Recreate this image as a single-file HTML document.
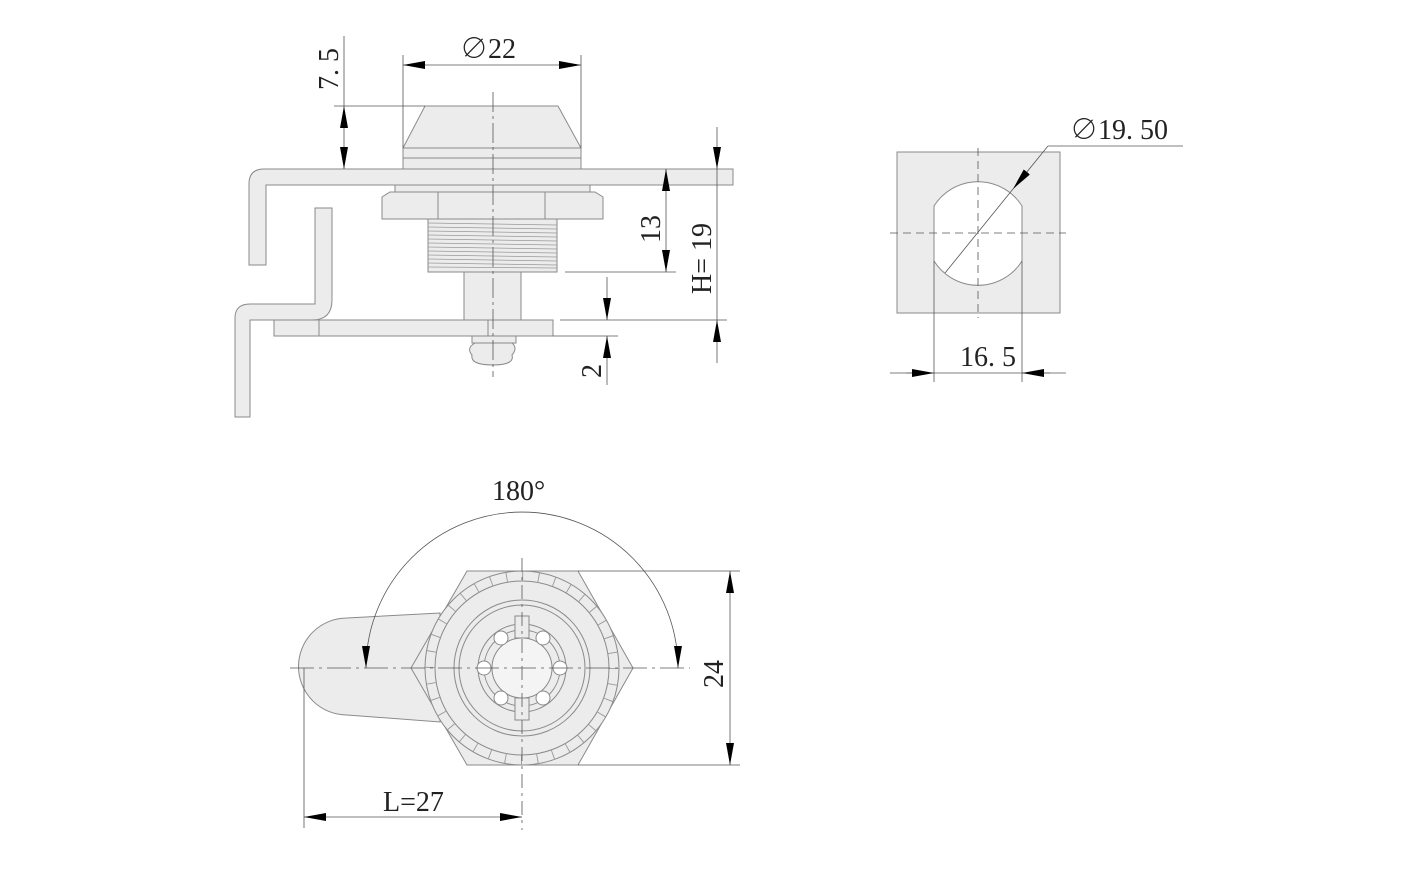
<!DOCTYPE html>
<html><head><meta charset="utf-8"><style>
html,body{margin:0;padding:0;background:#fff;}
svg{display:block;}
text{font-family:"Liberation Serif","Noto Serif CJK SC",serif;fill:#222;font-size:28px;}
</style></head><body>
<svg width="1424" height="894" viewBox="0 0 1424 894" xmlns="http://www.w3.org/2000/svg">
<defs>
<marker id="a" viewBox="0 0 22 8" refX="22" refY="4" markerWidth="22" markerHeight="8" markerUnits="userSpaceOnUse" orient="auto-start-reverse"><path d="M0,0L22,4L0,8z" fill="#000"/></marker>
</defs>
<g stroke="#8a8a8a" stroke-width="1" fill="#ececec">
<path d="M249,265 V184 Q249,169 264,169 H733 V185 H266 V265 Z"/>
<path d="M315,208 H332 V300 Q332,320 312,320 H250 V417 H235 V318 Q235,304 250,304 H315 Z"/>
<path d="M425,106 H558 L581,148 V169 H403 V148 Z"/>
<line x1="403" y1="148" x2="581" y2="148"/>
<line x1="403" y1="158" x2="581" y2="158"/>
<rect x="395" y="185" width="195" height="7"/>
<path d="M390,192 H595 L603,197 V219 H382 V197 Z"/>
<line x1="438" y1="192" x2="438" y2="219"/><line x1="545" y1="192" x2="545" y2="219"/>
<rect x="428" y="219" width="129" height="53"/>
<g stroke="#999" stroke-width="0.7">
<line x1="428" y1="223" x2="557" y2="225"/><line x1="428" y1="227" x2="557" y2="229"/><line x1="428" y1="231" x2="557" y2="233"/><line x1="428" y1="235" x2="557" y2="237"/><line x1="428" y1="239" x2="557" y2="241"/><line x1="428" y1="243" x2="557" y2="245"/><line x1="428" y1="247" x2="557" y2="249"/><line x1="428" y1="251" x2="557" y2="253"/><line x1="428" y1="255" x2="557" y2="257"/><line x1="428" y1="259" x2="557" y2="261"/><line x1="428" y1="263" x2="557" y2="265"/><line x1="428" y1="267" x2="557" y2="268"/>
</g>
<rect x="464" y="272" width="57" height="48"/>
<rect x="274" y="320" width="279" height="16"/>
<line x1="319" y1="320" x2="319" y2="336"/><line x1="488" y1="320" x2="488" y2="336"/>
<rect x="472" y="336" width="44" height="7"/>
<path d="M475,343 H512 Q518,348 512,355 Q515,365 493,365 Q470,365 472,355 Q466,348 475,343 Z"/>
<rect x="897" y="152" width="163" height="161"/>
<path d="M934,206 A52,52 0 0 1 1022,206 V261 A52,52 0 0 1 934,261 Z" fill="#fff"/>
<path d="M347,618 L440,613 L440,722 L347,715 A48,48 0 0 1 347,618 Z"/>
<path d="M467,571 H578 L633,668 L578,765 H467 L411,668 Z"/>
<circle cx="522" cy="668" r="97"/>
<circle cx="522" cy="668" r="87"/>
<circle cx="522" cy="668" r="68"/>
<circle cx="522" cy="668" r="63"/>
<circle cx="522" cy="668" r="44"/>
<circle cx="522" cy="668" r="38"/>
<circle cx="522" cy="668" r="30" fill="#f4f4f4"/>
<rect x="515" y="616" width="14" height="22"/><rect x="515" y="698" width="14" height="22"/>
<g fill="#fff"><circle cx="484" cy="668" r="7"/><circle cx="560" cy="668" r="7"/><circle cx="501" cy="638" r="7"/><circle cx="543" cy="638" r="7"/><circle cx="501" cy="698" r="7"/><circle cx="543" cy="698" r="7"/></g>
</g>
<circle cx="522" cy="668" r="92" fill="none" stroke="#999" stroke-width="10" stroke-dasharray="0.9 15.16"/>
<g stroke="#555" stroke-width="0.8" fill="none">
<line x1="493" y1="92" x2="493" y2="377" stroke-dasharray="20,4,3,4"/>
<line x1="890" y1="233" x2="1066" y2="233" stroke-dasharray="8,5"/>
<line x1="978" y1="148" x2="978" y2="318" stroke-dasharray="8,5"/>
<line x1="290" y1="668" x2="690" y2="668" stroke-dasharray="24,5,3,5"/>
<line x1="522" y1="558" x2="522" y2="830" stroke-dasharray="14,5,3,5"/>
<line x1="403" y1="55" x2="403" y2="148"/><line x1="581" y1="55" x2="581" y2="148"/>
<line x1="403" y1="65" x2="581" y2="65" marker-start="url(#a)" marker-end="url(#a)"/>
<line x1="334" y1="106" x2="425" y2="106"/>
<line x1="344" y1="36" x2="344" y2="106"/>
<line x1="344" y1="106" x2="344" y2="169" marker-start="url(#a)" marker-end="url(#a)"/>
<line x1="565" y1="272" x2="676" y2="272"/>
<line x1="666" y1="169" x2="666" y2="272" marker-start="url(#a)" marker-end="url(#a)"/>
<line x1="560" y1="320" x2="727" y2="320"/>
<line x1="717" y1="127" x2="717" y2="169" marker-end="url(#a)"/>
<line x1="717" y1="169" x2="717" y2="320"/>
<line x1="717" y1="363" x2="717" y2="320" marker-end="url(#a)"/>
<line x1="553" y1="336" x2="618" y2="336"/>
<line x1="607" y1="277" x2="607" y2="320" marker-end="url(#a)"/>
<line x1="607" y1="385" x2="607" y2="336" marker-end="url(#a)"/>
<line x1="945" y1="273" x2="1013" y2="189"/>
<line x1="1048" y1="146" x2="1013" y2="189" marker-end="url(#a)"/>
<line x1="1048" y1="146" x2="1183" y2="146"/>
<line x1="934" y1="261" x2="934" y2="382"/><line x1="1022" y1="261" x2="1022" y2="382"/>
<line x1="890" y1="373" x2="1066" y2="373"/>
<line x1="906" y1="373" x2="934" y2="373" marker-end="url(#a)"/>
<line x1="1050" y1="373" x2="1022" y2="373" marker-end="url(#a)"/>
<path d="M366,668 A156,156 0 0 1 678,668" marker-start="url(#a)" marker-end="url(#a)"/>
<line x1="578" y1="571" x2="740" y2="571"/><line x1="578" y1="765" x2="740" y2="765"/>
<line x1="730" y1="571" x2="730" y2="765" marker-start="url(#a)" marker-end="url(#a)"/>
<line x1="304" y1="668" x2="304" y2="828"/>
<line x1="304" y1="817" x2="522" y2="817" marker-start="url(#a)" marker-end="url(#a)"/>
</g>
<text x="460" y="58">∅22</text>
<text transform="translate(338,90) rotate(-90)">7. 5</text>
<text transform="translate(660,243) rotate(-90)">13</text>
<text transform="translate(711,294) rotate(-90)">H= 19</text>
<text transform="translate(601,378) rotate(-90)">2</text>
<text x="1070" y="139">∅19. 50</text>
<text x="960" y="366">16. 5</text>
<text x="492" y="500">180°</text>
<text transform="translate(723,688) rotate(-90)">24</text>
<text x="383" y="811">L=27</text>
</svg>
</body></html>
